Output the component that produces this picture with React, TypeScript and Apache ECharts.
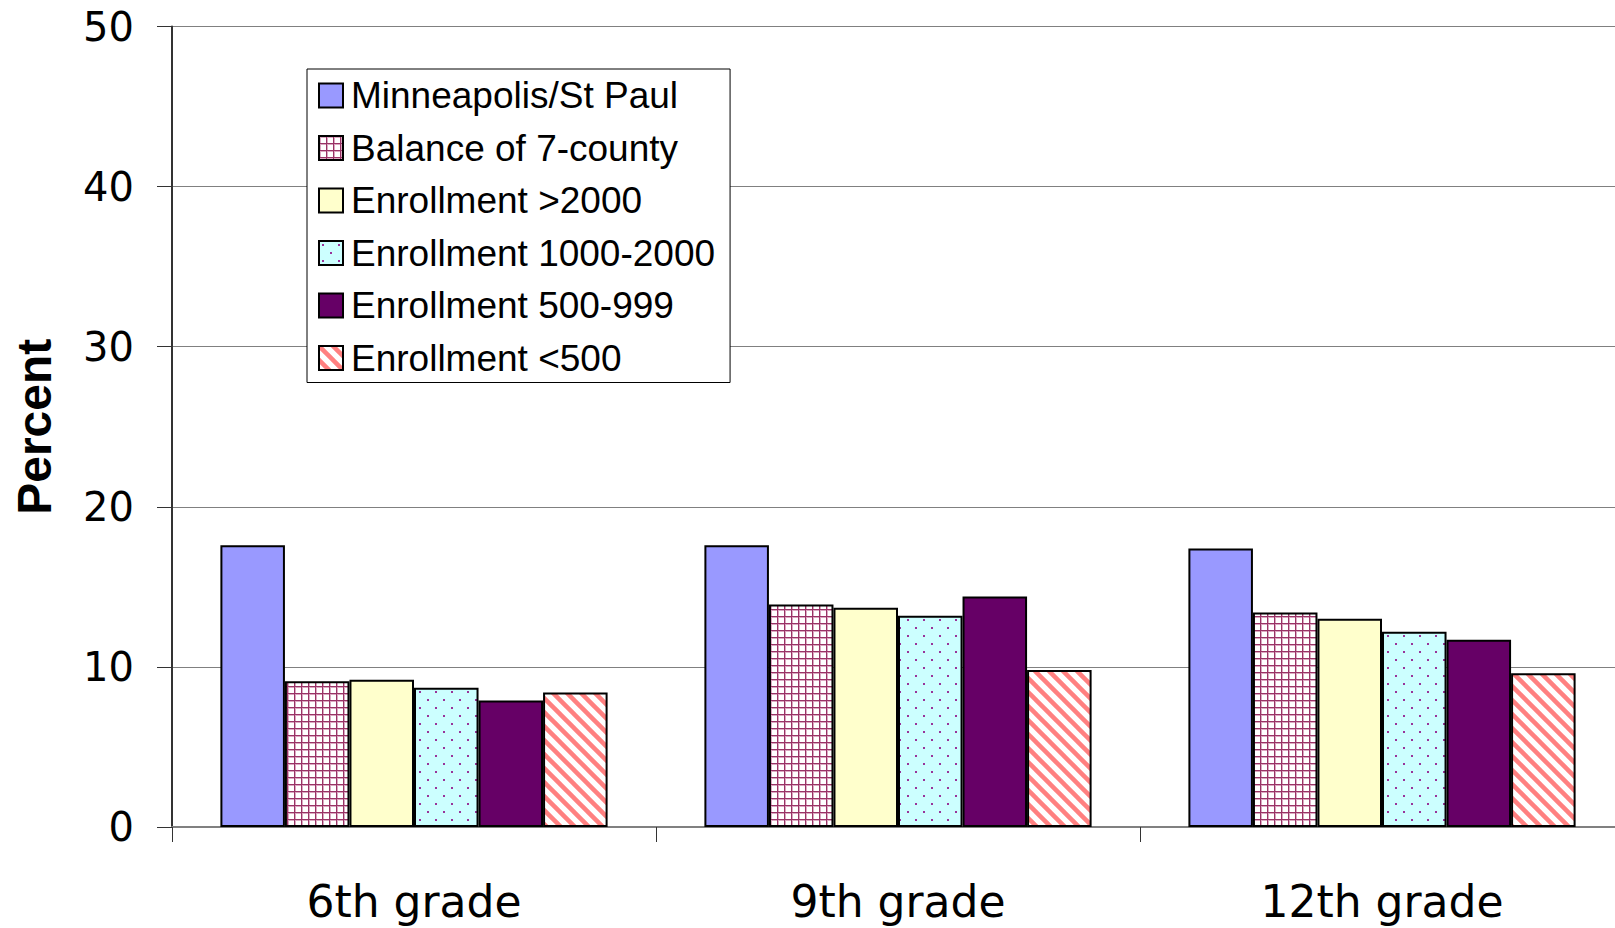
import React, { useEffect, useRef } from "react";
import * as echarts from "echarts";

const categories = ["6th grade", "9th grade", "12th grade"];
const seriesNames = [
  "Minneapolis/St Paul",
  "Balance of 7-county",
  "Enrollment >2000",
  "Enrollment 1000-2000",
  "Enrollment 500-999",
  "Enrollment <500",
];
const mplsStPaul = [17.6, 17.6, 17.4];
const balance7County = [9.1, 13.9, 13.4];
const enrollOver2000 = [9.2, 13.7, 13.0];
const enroll1000to2000 = [8.7, 13.2, 12.2];
const enroll500to999 = [7.9, 14.4, 11.7];
const enrollUnder500 = [8.4, 9.8, 9.6];
const yTicks = [0, 10, 20, 30, 40, 50];

function makePattern(w: number, h: number, draw: (ctx: CanvasRenderingContext2D) => void) {
  const c = document.createElement("canvas");
  c.width = w;
  c.height = h;
  const ctx = c.getContext("2d") as CanvasRenderingContext2D;
  draw(ctx);
  return { image: c, repeat: "repeat", imageWidth: w, imageHeight: h } as any;
}

export default function App() {
  const ref = useRef<HTMLDivElement>(null);
  useEffect(() => {
    if (!ref.current) return;
    const chart = echarts.init(ref.current, undefined, { renderer: "svg" });

    const gridPattern = makePattern(7, 7, (ctx) => {
      ctx.fillStyle = "#ffffff";
      ctx.fillRect(0, 0, 7, 7);
      ctx.fillStyle = "#dba8c1";
      ctx.fillRect(0, 1, 7, 1);
      ctx.fillRect(1, 0, 1, 7);
      ctx.fillStyle = "#993366";
      ctx.fillRect(0, 0, 7, 1);
      ctx.fillRect(0, 0, 1, 7);
    });
    const dotPattern = makePattern(16, 16, (ctx) => {
      ctx.fillStyle = "#ccffff";
      ctx.fillRect(0, 0, 16, 16);
      ctx.fillStyle = "#993399";
      ctx.fillRect(3, 3, 2, 2);
      ctx.fillRect(11, 11, 2, 2);
    });
    const stripePattern = makePattern(14, 14, (ctx) => {
      ctx.fillStyle = "#ffffff";
      ctx.fillRect(0, 0, 14, 14);
      ctx.strokeStyle = "#ff8080";
      ctx.lineWidth = 4.5;
      for (let k = -1; k <= 1; k++) {
        ctx.beginPath();
        ctx.moveTo(k * 14 - 2, -2);
        ctx.lineTo(k * 14 + 16, 16);
        ctx.stroke();
      }
    });

    const dataSets = [
      mplsStPaul,
      balance7County,
      enrollOver2000,
      enroll1000to2000,
      enroll500to999,
      enrollUnder500,
    ];
    const fills: any[] = ["#9999ff", gridPattern, "#ffffcc", dotPattern, "#660066", stripePattern];

    const series = dataSets.map((d, i) => ({
      name: seriesNames[i],
      type: "bar",
      data: d,
      barGap: "0%",
      barCategoryGap: "20%",
      itemStyle: { color: fills[i], borderColor: "#000000", borderWidth: 2 },
    }));

    chart.setOption({
      animation: false,
      backgroundColor: "#ffffff",
      grid: {
        left: 172,
        width: 1452,
        top: 26.5,
        bottom: 101,
        containLabel: false,
        outerBoundsMode: "none",
      },
      legend: {
        orient: "vertical",
        left: 307,
        top: 69,
        padding: [8, 15, 6, 11],
        itemGap: 15.5,
        itemWidth: 24,
        itemHeight: 24,
        icon: "rect",
        backgroundColor: "#ffffff",
        borderColor: "#000000",
        borderWidth: 1,
        borderRadius: 0,
        textStyle: {
          fontFamily: "Liberation Sans, Arial, sans-serif",
          fontSize: 37,
          color: "#000000",
          padding: [0, 0, 0, 3],
        },
        itemStyle: { borderColor: "#000000", borderWidth: 2 },
        data: seriesNames,
      },
      xAxis: {
        type: "category",
        data: categories,
        boundaryGap: true,
        axisLine: { lineStyle: { color: "#808080", width: 2 } },
        axisTick: { show: true, length: 15, lineStyle: { color: "#333333", width: 1 } },
        axisLabel: {
          margin: 52,
          fontFamily: "DejaVu Sans, sans-serif",
          fontSize: 44,
          color: "#000000",
        },
      },
      yAxis: {
        type: "value",
        min: yTicks[0],
        max: yTicks[yTicks.length - 1],
        interval: 10,
        name: "Percent",
        nameLocation: "middle",
        nameGap: 114,
        nameRotate: 90,
        nameTextStyle: {
          fontFamily: "Liberation Sans, Arial, sans-serif",
          fontSize: 48,
          fontWeight: "bold",
          color: "#000000",
        },
        axisLine: { show: true, lineStyle: { color: "#333333", width: 2 } },
        axisTick: { show: true, length: 15, lineStyle: { color: "#333333", width: 1 } },
        axisLabel: {
          margin: 38,
          fontFamily: "DejaVu Sans, sans-serif",
          fontSize: 40,
          color: "#000000",
        },
        splitLine: { show: true, lineStyle: { color: "#808080", width: 1 } },
      },
      series,
    });
    return () => chart.dispose();
  }, []);
  return (
    <div
      ref={ref}
      style={{ position: "fixed", left: 0, top: 0, width: 1615, height: 928 }}
    />
  );
}
